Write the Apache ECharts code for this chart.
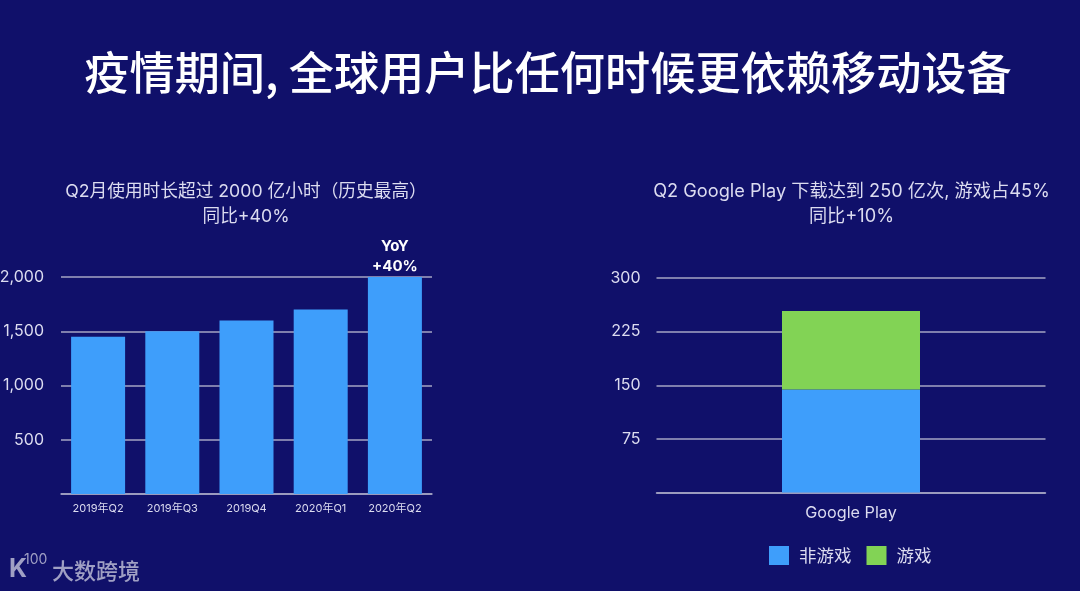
<!DOCTYPE html>
<html lang="zh">
<head>
    <meta charset="utf-8">
    <title>疫情期间，全球用户比任何时候更依赖移动设备</title>
    <script src="https://cdn.jsdelivr.net/npm/echarts@6/dist/echarts.min.js"></script>
    <style>
        html, body, #main { width: 100%; height: 100%; margin: 0; padding: 0; overflow: hidden; background-color: #10106a; }
    </style>
</head>
<body>
<div id="main"></div>
<script type="text/javascript">
    var pageTitle = '疫情期间, 全球用户比任何时候更依赖移动设备';
    var leftTitle = 'Q2月使用时长超过 2000 亿小时（历史最高）\n同比+40%';
    var rightTitle = 'Q2 Google Play 下载达到 250 亿次, 游戏占45%\n同比+10%';
    var yoyLabel = 'YoY\n+40%';
    var watermark = '大数跨境';

    var quarters = ['2019年Q2', '2019年Q3', '2019Q4', '2020年Q1', '2020年Q2'];
    var usageHours = [1450, 1500, 1600, 1700, 2000];
    var storeNames = ['Google Play'];
    var nonGame = [144];
    var game = [110];
    var seriesNames = ['非游戏', '游戏'];

    var FONT = 'Inter, "Noto Sans CJK SC", sans-serif';
    var CJK = '"Noto Sans CJK SC", sans-serif';
    var BLUE = '#3e9efb', GREEN = '#82d355', LINE = '#a5a5c4', TEXT = '#dcdcf0', MARK = '#a0a0c4';

    var chart = echarts.init(document.getElementById('main'));

    var titleLabel = function (text, left, size) {
        return {
            text: text, left: left, top: 174, textAlign: 'center',
            textStyle: { color: TEXT, fontSize: size, fontWeight: 'normal', fontFamily: FONT, lineHeight: 25 }
        };
    };

    chart.setOption({
        backgroundColor: '#10106a',
        title: [
            {
                text: pageTitle, left: 543, top: 45, textAlign: 'center',
                textStyle: { color: '#ffffff', fontSize: 45.2, fontWeight: 500, fontFamily: CJK }
            },
            titleLabel(leftTitle, 241, 17.7),
            titleLabel(rightTitle, 846.5, 18.2),
            {
                text: watermark, left: 47, top: 555,
                textStyle: { color: MARK, fontSize: 22, fontWeight: 500, fontFamily: CJK }
            },
            {
                text: 'K', left: 4, top: 552,
                textStyle: { color: MARK, fontSize: 25, fontWeight: 'bold', fontFamily: FONT }
            },
            {
                text: '100', left: 19, top: 548,
                textStyle: { color: MARK, fontSize: 14, fontWeight: 'normal', fontFamily: FONT }
            }
        ],
        legend: {
            left: 764, top: 541, itemWidth: 20, itemHeight: 19, itemGap: 15,
            icon: 'rect',
            data: seriesNames,
            textStyle: { color: TEXT, fontSize: 17.5, fontFamily: CJK, padding: [0, 0, 0, 5] }
        },
        grid: [
            // 2,000 is cut by the page edge in the original, so the grid must not shrink to fit it
            { left: 61, top: 277, width: 371, height: 217, outerBoundsMode: 'none' },
            { left: 656.5, top: 278, width: 389, height: 214.5, outerBoundsMode: 'none' }
        ],
        xAxis: [
            {
                type: 'category', gridIndex: 0, data: quarters,
                axisTick: { show: false },
                axisLine: { lineStyle: { color: LINE, width: 1.5 } },
                axisLabel: { color: TEXT, fontSize: 11, margin: 9, fontFamily: FONT, interval: 0 }
            },
            {
                type: 'category', gridIndex: 1, data: storeNames,
                axisTick: { show: false },
                axisLine: { lineStyle: { color: LINE, width: 1.5 } },
                axisLabel: { color: TEXT, fontSize: 16.2, margin: 13, fontFamily: FONT }
            }
        ],
        yAxis: [
            {
                type: 'value', gridIndex: 0, min: 0, max: 2000, interval: 500,
                axisLine: { show: false }, axisTick: { show: false },
                splitLine: { lineStyle: { color: LINE, width: 1.5 } },
                axisLabel: {
                    color: TEXT, fontSize: 16, margin: 17, fontFamily: FONT,
                    formatter: function (v) { return v === 0 ? '' : v.toLocaleString('en-US'); }
                }
            },
            {
                type: 'value', gridIndex: 1, min: 0, max: 300, interval: 75,
                axisLine: { show: false }, axisTick: { show: false },
                splitLine: { lineStyle: { color: LINE, width: 1.5 } },
                axisLabel: {
                    color: TEXT, fontSize: 16, margin: 16, fontFamily: FONT,
                    formatter: function (v) { return v === 0 ? '' : String(v); }
                }
            }
        ],
        series: [
            {
                name: '使用时长', type: 'bar', xAxisIndex: 0, yAxisIndex: 0, barWidth: 54,
                data: usageHours, itemStyle: { color: BLUE },
                label: {
                    show: true, position: 'top', distance: 1,
                    color: '#ffffff', fontSize: 15, fontWeight: 'bold', fontFamily: FONT, lineHeight: 20,
                    formatter: function (p) { return p.dataIndex === quarters.length - 1 ? yoyLabel : ''; }
                }
            },
            {
                name: seriesNames[0], type: 'bar', stack: 'store', xAxisIndex: 1, yAxisIndex: 1, barWidth: 138,
                data: nonGame, itemStyle: { color: BLUE }
            },
            {
                name: seriesNames[1], type: 'bar', stack: 'store', xAxisIndex: 1, yAxisIndex: 1, barWidth: 138,
                data: game, itemStyle: { color: GREEN }
            }
        ]
    });
</script>
</body>
</html>
